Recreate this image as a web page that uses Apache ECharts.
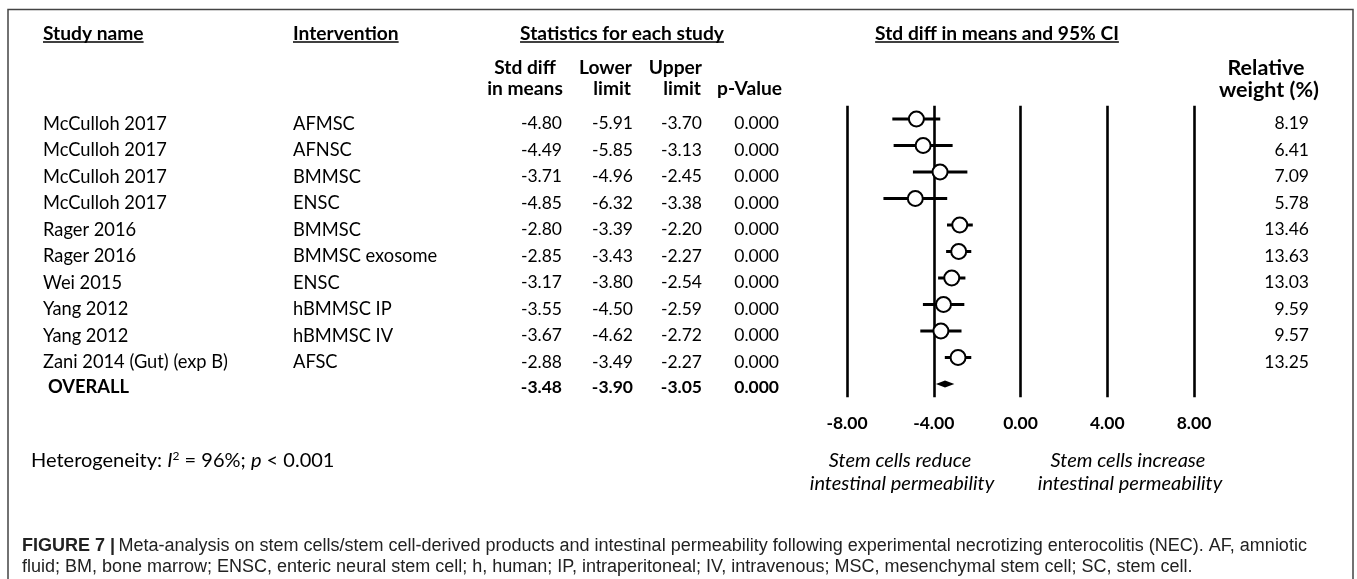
<!DOCTYPE html>
<html><head><meta charset="utf-8">
<script src="https://cdn.jsdelivr.net/npm/echarts@6/dist/echarts.min.js"></script>
<style>html,body{margin:0;padding:0;background:#fff}#c{width:1357px;height:579px}</style>
</head><body><div id="c"></div>
<script>
// ---- data ----
const studyNames = ['McCulloh 2017','McCulloh 2017','McCulloh 2017','McCulloh 2017','Rager 2016','Rager 2016','Wei 2015','Yang 2012','Yang 2012','Zani 2014 (Gut) (exp B)'];
const interventions = ['AFMSC','AFNSC','BMMSC','ENSC','BMMSC','BMMSC exosome','ENSC','hBMMSC IP','hBMMSC IV','AFSC'];
const smd = [-4.80,-4.49,-3.71,-4.85,-2.80,-2.85,-3.17,-3.55,-3.67,-2.88];
const lowerLimit = [-5.91,-5.85,-4.96,-6.32,-3.39,-3.43,-3.80,-4.50,-4.62,-3.49];
const upperLimit = [-3.70,-3.13,-2.45,-3.38,-2.20,-2.27,-2.54,-2.59,-2.72,-2.27];
const pValues = ['0.000','0.000','0.000','0.000','0.000','0.000','0.000','0.000','0.000','0.000'];
const relWeights = ['8.19','6.41','7.09','5.78','13.46','13.63','13.03','9.59','9.57','13.25'];
const overallLabel = 'OVERALL';
const overallSmd = -3.48, overallLower = -3.90, overallUpper = -3.05, overallP = '0.000';
const xMin = -8, xMax = 8, xInterval = 4;

const FF = 'Lato';
const FS = 17.5;      // numbers, tick labels
const FT = 18.3;      // names
const FH = 19.2;      // bold headers
const FR = 21.5;      // relative weight header
const FL = 20;        // bottom notes
const chart = echarts.init(document.getElementById('c'), null, {renderer: 'canvas'});
const nRows = smd.length + 1;

chart.setOption({
  animation: false,
  grid: {left: 847, width: 347, top: 105.75, height: 291.5},
  xAxis: {
    type: 'value', min: xMin, max: xMax, interval: xInterval,
    axisLine: {show: false}, axisTick: {show: false},
    splitLine: {show: true, lineStyle: {color: '#000', width: 2.6}},
    axisLabel: {formatter: v => v.toFixed(2), fontFamily: FF, fontWeight: 'bold', fontSize: FS, color: '#000', margin: 17}
  },
  yAxis: {type: 'value', min: -0.5, max: nRows - 0.5, inverse: true, show: false, splitLine: {show: false}},
  series: [
    {
      type: 'custom', z: 3,
      data: smd.map((v, i) => [lowerLimit[i], upperLimit[i], i]),
      encode: {x: [0, 1], y: 2},
      renderItem: (params, api) => {
        const a = api.coord([api.value(0), api.value(2)]);
        const b = api.coord([api.value(1), api.value(2)]);
        return {type: 'line', shape: {x1: a[0], y1: a[1], x2: b[0], y2: b[1]}, style: {stroke: '#000', lineWidth: 3}};
      }
    },
    {
      type: 'scatter', z: 4, symbol: 'circle', symbolSize: 15,
      data: smd.map((v, i) => [v, i]),
      itemStyle: {color: '#fff', borderColor: '#000', borderWidth: 2, opacity: 1}
    },
    {
      type: 'custom', z: 4,
      data: [[overallLower, overallSmd, overallUpper, nRows - 1]],
      encode: {x: [0, 1, 2], y: 3},
      renderItem: (params, api) => {
        const r = api.value(3);
        const l = api.coord([api.value(0), r]);
        const m = api.coord([api.value(1), r]);
        const u = api.coord([api.value(2), r]);
        return {type: 'polygon', shape: {points: [[l[0], l[1]], [m[0], m[1] - 3.5], [u[0], u[1]], [m[0], m[1] + 3.5]]}, style: {fill: '#000'}};
      }
    }
  ]
});

// ---- table text ----
const ctx = document.createElement('canvas').getContext('2d');
function tw(t, font) { ctx.font = font; return ctx.measureText(t).width; }
const f = (w, s) => (w ? w + ' ' : '') + s + 'px ' + FF;
const G = [];
function txt(t, x, y, font, align) {
  G.push({type: 'text', silent: true, style: {text: t, x: x, y: y, font: font, textAlign: align || 'left', textVerticalAlign: 'middle', fill: '#000'}});
}
function uhead(t, x, y, align) {
  const font = f('bold', FH);
  txt(t, x, y, font, align);
  const w = tw(t, font);
  const x0 = align === 'center' ? x - w / 2 : (align === 'right' ? x - w : x);
  G.push({type: 'line', silent: true, shape: {x1: x0, y1: y + 8.5, x2: x0 + w, y2: y + 8.5}, style: {stroke: '#000', lineWidth: 1.4}});
}
const yOf = i => chart.convertToPixel({gridIndex: 0}, [0, i])[1];

uhead('Study name', 43, 33.5, 'left');
uhead('Intervention', 293, 33.5, 'left');
uhead('Statistics for each study', 622, 33.5, 'center');
uhead('Std diff in means and 95% CI', 997, 33.5, 'center');
const fh = f('bold', FH);
txt('Std diff', 525, 68, fh, 'center'); txt('in means', 525, 89, fh, 'center');
txt('Lower', 632, 68, fh, 'right'); txt('limit', 631, 89, fh, 'right');
txt('Upper', 702, 68, fh, 'right'); txt('limit', 701, 89, fh, 'right');
txt('p-Value', 782, 89, fh, 'right');
txt('Relative', 1266, 68, f('bold', FR), 'center'); txt('weight (%)', 1269, 90, f('bold', FR), 'center');

const colSmd = 562, colLo = 633, colUp = 702, colP = 779, colW = 1309;
const dy = 4.8;
for (let i = 0; i < smd.length; i++) {
  const y = yOf(i) + dy;
  txt(studyNames[i], 43, y, f('', FT));
  txt(interventions[i], 293, y, f('', FT));
  txt(smd[i].toFixed(2), colSmd, y, f('', FS), 'right');
  txt(lowerLimit[i].toFixed(2), colLo, y, f('', FS), 'right');
  txt(upperLimit[i].toFixed(2), colUp, y, f('', FS), 'right');
  txt(pValues[i], colP, y, f('', FS), 'right');
  txt(relWeights[i], colW, y, f('', FS), 'right');
}
{
  const y = yOf(nRows - 1) + 3.5;
  txt(overallLabel, 48, y, f('bold', FT));
  txt(overallSmd.toFixed(2), colSmd, y, f('bold', FS), 'right');
  txt(overallLower.toFixed(2), colLo, y, f('bold', FS), 'right');
  txt(overallUpper.toFixed(2), colUp, y, f('bold', FS), 'right');
  txt(overallP, colP, y, f('bold', FS), 'right');
}

// heterogeneity
G.push({type: 'text', silent: true, style: {
  x: 31, y: 461, textVerticalAlign: 'middle',
  text: '{n|Heterogeneity: }{i|I}{s|2}{n| = 96%; }{i|p}{n| < 0.001}',
  rich: {
    n: {fontFamily: FF, fontSize: FL, fill: '#000', color: '#000'},
    i: {fontFamily: FF, fontSize: FL, fontStyle: 'italic', fill: '#000', color: '#000'},
    s: {fontFamily: FF, fontSize: 12, fill: '#000', color: '#000', verticalAlign: 'top', padding: [0, 0, 10, 0]}
  }
}});
const fi = f('italic', FL);
txt('Stem cells reduce', 900, 461, fi, 'center');
txt('intestinal permeability', 902, 484, fi, 'center');
txt('Stem cells increase', 1128, 461, fi, 'center');
txt('intestinal permeability', 1130, 484, fi, 'center');

// caption
const CF = '"Liberation Sans Narrow", "Liberation Sans", sans-serif';
G.push({type: 'text', silent: true, style: {
  x: 22, y: 546, textVerticalAlign: 'middle',
  text: '{b|FIGURE 7 |} {n|Meta-analysis on stem cells/stem cell-derived products and intestinal permeability following experimental necrotizing enterocolitis (NEC). AF, amniotic}',
  rich: {b: {fontFamily: CF, fontSize: 18, fontWeight: 'bold', fill: '#222'}, n: {fontFamily: CF, fontSize: 18, fill: '#222'}}
}});
G.push({type: 'text', silent: true, style: {
  x: 22, y: 567, textVerticalAlign: 'middle',
  text: 'fluid; BM, bone marrow; ENSC, enteric neural stem cell; h, human; IP, intraperitoneal; IV, intravenous; MSC, mesenchymal stem cell; SC, stem cell.',
  font: '18px ' + CF, fill: '#222'
}});

// frame
G.push({type: 'polyline', silent: true, shape: {points: [[8, 579], [8, 9.5], [1353, 9.5], [1353, 579]]}, style: {stroke: '#444', lineWidth: 1.5, fill: null}});

chart.setOption({graphic: {elements: G}});
</script>
</body></html>
